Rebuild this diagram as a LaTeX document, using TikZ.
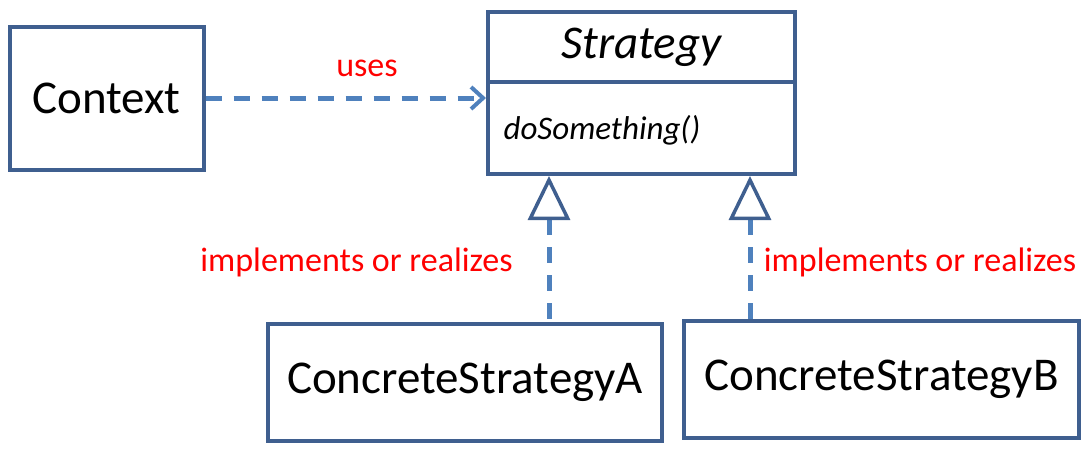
\documentclass[tikz,border=0pt]{standalone}
\usepackage{fontspec}
\setmainfont{Carlito}
\usetikzlibrary{arrows.meta}
\definecolor{boxblue}{HTML}{3F5F8F}
\definecolor{lineblue}{HTML}{4F81BD}
\definecolor{labred}{HTML}{FF0000}
\begin{document}
\begin{tikzpicture}[x=1pt,y=-1pt,
  box/.style={draw=boxblue, line width=4pt, inner sep=0pt},
  big/.style={font=\fontsize{47}{50}\selectfont},
  lab/.style={text=labred, font=\fontsize{34}{38}\selectfont},
  dep/.style={draw=lineblue, line width=5pt, dash pattern=on 16pt off 12pt},
  real/.style={dep, {Triangle[open, length=44pt, width=42pt, line width=3.5pt, color=boxblue]}-}
]
\useasboundingbox (0,0) rectangle (1092,451);
\node[box, minimum width=194pt, minimum height=143pt, big] (C) at (106.5,98) {Context};
\node[box, minimum width=307pt, minimum height=162pt] (S) at (641.5,92.5) {};
\node[big, font=\fontsize{47}{50}\selectfont\itshape] (SN) at (641.5,47) {Strategy};
\node[anchor=west, font=\fontsize{33}{36}\selectfont\itshape] (SM) at (500,130) {doSomething()};
\coordinate (dl) at (488,82);
\coordinate (dr) at (795,82);
\draw[boxblue, line width=4pt] (dl) -- (dr);
\node[box, minimum width=394pt, minimum height=117pt, big] (A) at (465,382.5) {ConcreteStrategyA};
\node[box, minimum width=395pt, minimum height=117pt, big] (B) at (881.5,379.5) {ConcreteStrategyB};
\coordinate (tA) at (549,176);
\coordinate (tB) at (750,176);
\draw[dep, -{Straight Barb[length=12pt, width=22pt, line width=4pt]}] (C.east) -- (C.east -| S.west);
\node[lab] (uses) at (367,68) {uses};
\draw[real] (tA) -- (A.north -| tA);
\draw[real] (tB) -- (B.north -| tB);
\node[lab] (la) at (356.5,262) {implements or realizes};
\node[lab] (lb) at (920,262) {implements or realizes};
\end{tikzpicture}
\end{document}
